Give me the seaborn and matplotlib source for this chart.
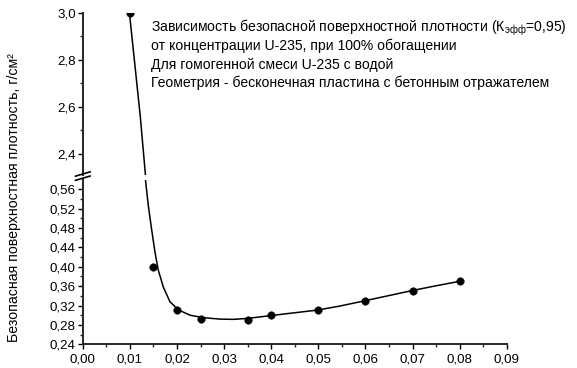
import matplotlib
matplotlib.use("Agg")
import matplotlib.pyplot as plt
from matplotlib.lines import Line2D
from matplotlib.ticker import FixedLocator, FixedFormatter
import seaborn as sns
import pandas as pd

# measured points: U-235 concentration vs safe surface density
conc = [0.010, 0.015, 0.020, 0.025, 0.035, 0.040, 0.050, 0.060, 0.070, 0.080]
density = [3.00, 0.400, 0.310, 0.293, 0.290, 0.300, 0.310, 0.330, 0.350, 0.370]

# fitted curve (steep branch continues across the axis break)
fit_x = [0.0099, 0.0110, 0.0122, 0.0133,
         0.0133, 0.0139, 0.0146, 0.0153, 0.0160, 0.0171, 0.0185, 0.0203,
         0.0228, 0.0256, 0.0291, 0.0320, 0.0350, 0.0397, 0.0440, 0.0497,
         0.0546, 0.0597, 0.0652, 0.0697, 0.0751, 0.0800]
fit_y = [3.00, 2.79, 2.56, 2.31,
         0.580, 0.527, 0.478, 0.432, 0.394, 0.358, 0.328, 0.311,
         0.300, 0.295, 0.292, 0.2915, 0.2935, 0.2990, 0.3040, 0.3105,
         0.3190, 0.3295, 0.3410, 0.3505, 0.3610, 0.3700]

x_ticks = [0.00, 0.01, 0.02, 0.03, 0.04, 0.05, 0.06, 0.07, 0.08, 0.09]
x_tick_labels = ["0,00", "0,01", "0,02", "0,03", "0,04", "0,05", "0,06", "0,07", "0,08", "0,09"]
x_minor = [0.005, 0.015, 0.025, 0.035, 0.045, 0.055, 0.065, 0.075, 0.085]

y_low_ticks = [0.24, 0.28, 0.32, 0.36, 0.40, 0.44, 0.48, 0.52, 0.56]
y_low_labels = ["0,24", "0,28", "0,32", "0,36", "0,40", "0,44", "0,48", "0,52", "0,56"]
y_low_minor = [0.26, 0.30, 0.34, 0.38, 0.42, 0.46, 0.50, 0.54]

y_high_ticks = [2.4, 2.6, 2.8, 3.0]
y_high_labels = ["2,4", "2,6", "2,8", "3,0"]
y_high_minor = [2.5, 2.7, 2.9]

title_lines = [
    "Зависимость безопасной поверхностной плотности (К$_{\\mathrm{эфф}}$=0,95)",
    "от концентрации U-235, при 100% обогащении",
    "Для гомогенной смеси U-235 с водой",
    "Геометрия - бесконечная пластина с бетонным отражателем",
]
y_label = "Безопасная поверхностная плотность, г/см²"

sns.set_style("ticks")
plt.rcParams["font.family"] = ["Liberation Sans", "DejaVu Sans"]
plt.rcParams["mathtext.fontset"] = "custom"
plt.rcParams["mathtext.rm"] = "Liberation Sans"
plt.rcParams["mathtext.it"] = "Liberation Sans:italic"
plt.rcParams["mathtext.bf"] = "Liberation Sans:bold"

pts = pd.DataFrame({"conc": conc, "density": density})
fit = pd.DataFrame({"x": fit_x, "y": fit_y})

W, H = 577, 368
fig = plt.figure(figsize=(W / 100, H / 100), dpi=100)

left_px, right_px = 82.8, 506.7
low_top_px, low_bot_px = 179.6, 344.3
high_top_px, high_bot_px = 13.0, 175.0


def frac_box(top_px, bot_px):
    return [left_px / W, 1 - bot_px / H, (right_px - left_px) / W, (bot_px - top_px) / H]


ax_hi = fig.add_axes(frac_box(high_top_px, high_bot_px))
ax_lo = fig.add_axes(frac_box(low_top_px, low_bot_px))

for ax in (ax_hi, ax_lo):
    sns.lineplot(data=fit, x="x", y="y", ax=ax, color="black", linewidth=1.1,
                 sort=False, estimator=None)
    sns.scatterplot(data=pts, x="conc", y="density", ax=ax, color="black",
                    s=30, edgecolor="black", linewidth=0.3, zorder=3)
    ax.set_xlim(0, 0.09)
    ax.set_xlabel("")
    ax.set_ylabel("")
    ax.spines["top"].set_visible(False)
    ax.spines["right"].set_visible(False)
    for sp in ("left", "bottom"):
        ax.spines[sp].set_linewidth(1.4)
    ax.tick_params(which="major", direction="out", length=3.6, width=1.0,
                   labelsize=9.6, colors="black", pad=1.5)
    ax.tick_params(which="minor", direction="out", length=2.2, width=1.0)
    ax.set_facecolor("white")

ax_lo.set_ylim(0.24, 0.58)
ax_lo.yaxis.set_major_locator(FixedLocator(y_low_ticks))
ax_lo.yaxis.set_major_formatter(FixedFormatter(y_low_labels))
ax_lo.yaxis.set_minor_locator(FixedLocator(y_low_minor))
ax_lo.xaxis.set_major_locator(FixedLocator(x_ticks))
ax_lo.xaxis.set_major_formatter(FixedFormatter(x_tick_labels))
ax_lo.xaxis.set_minor_locator(FixedLocator(x_minor))
ax_lo.tick_params(axis="x", which="major", pad=3)

ax_hi.set_ylim(2.31, 3.0)
ax_hi.yaxis.set_major_locator(FixedLocator(y_high_ticks))
ax_hi.yaxis.set_major_formatter(FixedFormatter(y_high_labels))
ax_hi.yaxis.set_minor_locator(FixedLocator(y_high_minor))
ax_hi.spines["bottom"].set_visible(False)
ax_hi.tick_params(axis="x", which="both", bottom=False, labelbottom=False)

# axis break marks on the y axis
for cy in (174.0, 178.2):
    xs = [(left_px - 7.5) / W, (left_px + 7.5) / W]
    ys = [1 - (cy + 2.2) / H, 1 - (cy - 2.2) / H]
    fig.add_artist(Line2D(xs, ys, transform=fig.transFigure, color="black", lw=1.2))

# description block
base_y = 31.7
for i, line in enumerate(title_lines):
    fig.text(151 / W, 1 - (base_y + i * 18.4) / H, line, fontsize=10.1,
             ha="left", va="baseline", color="black")

fig.text(14 / W, 1 - 197.5 / H, y_label, rotation=90, fontsize=10.2,
         ha="center", va="center", color="black")

fig.savefig("out.png", dpi=100, facecolor="white")
